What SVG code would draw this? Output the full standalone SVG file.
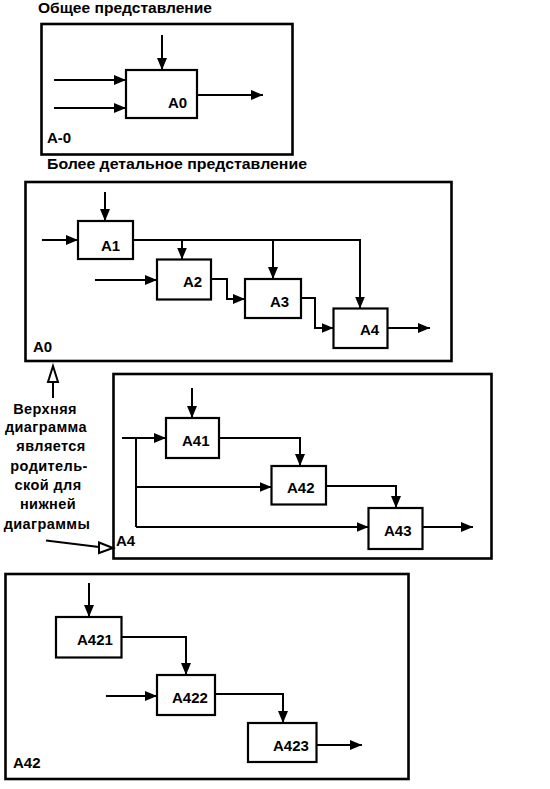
<svg xmlns="http://www.w3.org/2000/svg" width="550" height="789" viewBox="0 0 550 789">
<style>
  .frame{fill:none;stroke:#000;stroke-width:2.6}
  .box{fill:#fff;stroke:#000;stroke-width:2.2}
  .ln{fill:none;stroke:#000;stroke-width:2}
  .arr{fill:none;stroke:#000;stroke-width:2;marker-end:url(#ah)}
  .hollow{fill:#fff;stroke:#000;stroke-width:2}
  text{font-family:"Liberation Sans",Arial,sans-serif;font-weight:bold;fill:#000}
  .lbl{font-size:15px}
  .ttl{font-size:14px}
  .note{font-size:14.5px;text-anchor:middle;letter-spacing:0.4px}
</style>
<defs>
  <marker id="ah" markerWidth="12" markerHeight="10" refX="12" refY="5" orient="auto" markerUnits="userSpaceOnUse">
    <path d="M0,0 L12,5 L0,10 z" fill="#000"/>
  </marker>
</defs>

<text class="ttl" x="38" y="12.5" textLength="174" lengthAdjust="spacingAndGlyphs">Общее представление</text>
<text class="ttl" x="47" y="169" textLength="260" lengthAdjust="spacingAndGlyphs">Более детальное представление</text>

<!-- Frames -->
<g id="frame-A-0">
  <rect class="frame" x="41.5" y="24" width="251" height="130.5"/>
  <text class="lbl" x="47" y="143">A-0</text>
</g>
<g id="frame-A0">
  <rect class="frame" x="25.5" y="182" width="426" height="179"/>
  <text class="lbl" x="33" y="352">A0</text>
</g>
<g id="frame-A4">
  <rect class="frame" x="113.5" y="374" width="378" height="184.5"/>
  <text class="lbl" x="116" y="546">A4</text>
</g>
<g id="frame-A42">
  <rect class="frame" x="5.5" y="574" width="403" height="205"/>
  <text class="lbl" x="13" y="768">A42</text>
</g>

<!-- Connectors -->
<g id="connectors">
  <!-- A-0 -->
  <path class="arr" d="M162,35 V70"/>
  <path class="arr" d="M54,80 H126"/>
  <path class="arr" d="M54,108 H126"/>
  <path class="arr" d="M197,95 H263"/>
  <!-- A0 -->
  <path class="arr" d="M105,192 V221"/>
  <path class="arr" d="M42,240 H78"/>
  <path class="arr" d="M133,240 H360 V308.5"/>
  <path class="arr" d="M182,240 V259.5"/>
  <path class="arr" d="M273,240 V279"/>
  <path class="arr" d="M95,280 H157"/>
  <path class="arr" d="M211,279 H227 V299 H245"/>
  <path class="arr" d="M301,298 H315 V328 H333.5"/>
  <path class="arr" d="M387.5,328 H430"/>
  <!-- A4 -->
  <path class="arr" d="M192,388 V418"/>
  <path class="arr" d="M122,438 H166"/>
  <path class="ln" d="M136,438 V527"/>
  <path class="arr" d="M136,487 H271.5"/>
  <path class="arr" d="M136,527 H368.5"/>
  <path class="arr" d="M219,438 H300 V466"/>
  <path class="arr" d="M326,486 H396 V508"/>
  <path class="arr" d="M422.5,527 H473"/>
  <!-- A42 -->
  <path class="arr" d="M89,583 V617"/>
  <path class="arr" d="M121.5,637 H186 V675"/>
  <path class="arr" d="M106,696 H157"/>
  <path class="arr" d="M215,694 H283 V723"/>
  <path class="arr" d="M316.5,745 H362"/>
  <!-- parent/child annotation arrows -->
  <path class="ln" d="M53,398 V382"/>
  <path class="hollow" d="M53,366 L58,382 L48,382 z"/>
  <path class="ln" d="M46,540.5 L99,547"/>
  <path class="hollow" d="M99,542.5 L113,548 L99,553 z"/>
</g>

<!-- Nodes -->
<g id="A0">
  <rect class="box" x="126" y="70" width="71" height="48"/>
  <text class="lbl" x="168" y="108">A0</text>
</g>
<g id="A1">
  <rect class="box" x="78" y="221" width="55" height="38"/>
  <text class="lbl" x="101" y="251">A1</text>
</g>
<g id="A2">
  <rect class="box" x="157" y="259.5" width="54" height="40"/>
  <text class="lbl" x="183" y="287">A2</text>
</g>
<g id="A3">
  <rect class="box" x="245" y="279" width="56" height="39"/>
  <text class="lbl" x="270" y="307">A3</text>
</g>
<g id="A4">
  <rect class="box" x="333.5" y="308.5" width="54" height="39.5"/>
  <text class="lbl" x="360" y="335">A4</text>
</g>
<g id="A41">
  <rect class="box" x="166" y="418" width="53" height="40"/>
  <text class="lbl" x="182" y="446">A41</text>
</g>
<g id="A42">
  <rect class="box" x="271.5" y="466" width="54.5" height="38.5"/>
  <text class="lbl" x="287" y="493">A42</text>
</g>
<g id="A43">
  <rect class="box" x="368.5" y="508" width="54" height="41"/>
  <text class="lbl" x="384" y="536">A43</text>
</g>
<g id="A421">
  <rect class="box" x="56" y="617" width="65.5" height="40.5"/>
  <text class="lbl" x="77" y="645">A421</text>
</g>
<g id="A422">
  <rect class="box" x="157" y="675" width="58" height="40"/>
  <text class="lbl" x="172" y="703">A422</text>
</g>
<g id="A423">
  <rect class="box" x="248" y="723" width="68.5" height="39"/>
  <text class="lbl" x="273" y="751">A423</text>
</g>

<g id="note">
  <text class="note" x="45" y="414">Верхняя</text>
  <text class="note" x="46" y="432">диаграмма</text>
  <text class="note" x="51" y="451">является</text>
  <text class="note" x="49" y="471">родитель-</text>
  <text class="note" x="48" y="490">ской для</text>
  <text class="note" x="48" y="509">нижней</text>
  <text class="note" x="47" y="529">диаграммы</text>
</g>
</svg>
